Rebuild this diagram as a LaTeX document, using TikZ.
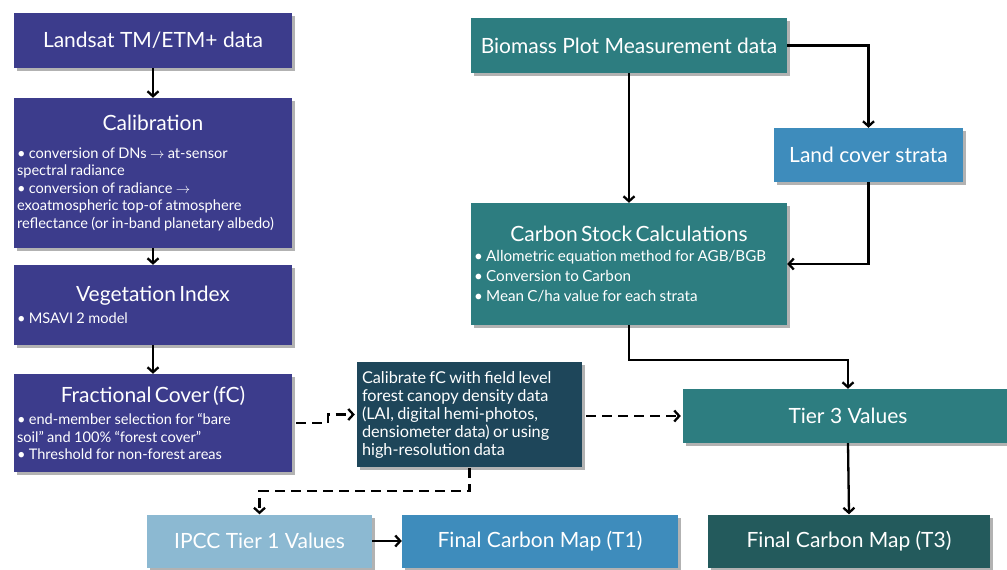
\documentclass[tikz,border=0pt]{standalone}
\usepackage{fontspec}
\setmainfont{Lato}
\usetikzlibrary{arrows.meta,shadows}
\definecolor{cpurple}{HTML}{3C3C8C}
\definecolor{cteal}{HTML}{2D7D80}
\definecolor{csteel}{HTML}{3E8CBC}
\definecolor{clight}{HTML}{8CB9D2}
\definecolor{cdark}{HTML}{1E465A}
\definecolor{cdteal}{HTML}{235A5C}
\newcommand{\titlef}{\fontsize{21}{25}\selectfont}
\newcommand{\bulf}{\fontsize{14.6}{17.5}\selectfont}
\newcommand{\csf}{\fontsize{15.2}{20}\selectfont}
\newcommand{\calf}{\fontsize{16.3}{18}\selectfont}
\begin{document}
\begin{tikzpicture}[x=1pt,y=-1pt,
  pbox/.style={rectangle,text=white,inner sep=0pt,
    drop shadow={shadow xshift=3pt,shadow yshift=-3pt,fill=black,opacity=0.3}},
  arr/.style={line width=2.3pt,-{Straight Barb[length=5pt,width=11pt]}},
  darr/.style={arr,dash pattern=on 10pt off 6pt}]
\useasboundingbox (0,0) rectangle (1007,570);
% left column
\node[pbox,fill=cpurple,minimum width=278pt,minimum height=55pt,font=\titlef] (land) at (153,40.5) {Landsat TM/ETM+ data};
\node[pbox,fill=cpurple,minimum width=278pt,minimum height=150pt,text width=272pt,align=left] (cal) at (153,173)
 {{\centering\titlef Calibration\par}\vspace{10pt}\bulf
 • conversion of DNs $\rightarrow$ at-sensor\par
 spectral radiance\par
 • conversion of radiance $\rightarrow$\par
 exoatmospheric top-of atmosphere\par
 reflectance (or in-band planetary albedo)\par};
\node[pbox,fill=cpurple,minimum width=278pt,minimum height=80pt,text width=272pt,align=left] (veg) at (153,305)
 {{\centering\titlef Vegetation Index\par}\vspace{4pt}\bulf
 • MSAVI 2 model\par};
\node[pbox,fill=cpurple,minimum width=278pt,minimum height=98pt,text width=272pt,align=left] (frac) at (153,423)
 {{\centering\titlef Fractional Cover (fC)\par}\vspace{5pt}\bulf
 • end-member selection for ``bare\par
 soil'' and 100\% ``forest cover''\par
 • Threshold for non-forest areas\par};
% middle
\node[pbox,fill=cdark,minimum width=225pt,minimum height=105pt,text width=215pt,align=left] (calfc) at (469.5,414.5)
 {\calf Calibrate fC with field level\par
 forest canopy density data\par
 (LAI, digital hemi-photos,\par
 densiometer data) or using\par
 high-resolution data\par};
% right column
\node[pbox,fill=cteal,minimum width=316pt,minimum height=55pt,font=\titlef] (bio) at (629,45.5) {Biomass Plot Measurement data};
\node[pbox,fill=csteel,minimum width=189pt,minimum height=54pt,font=\titlef] (lcs) at (868.5,155) {Land cover strata};
\node[pbox,fill=cteal,minimum width=316pt,minimum height=122pt,text width=310pt,align=left] (cs) at (629,264)
 {{\centering\titlef Carbon Stock Calculations\par}\csf
 • Allometric equation method for AGB/BGB\par
 • Conversion to Carbon\par
 • Mean C/ha value for each strata\par};
\node[pbox,fill=cteal,minimum width=330pt,minimum height=54pt,font=\titlef] (t3v) at (848,416) {Tier 3 Values};
% bottom row
\node[pbox,fill=clight,minimum width=225pt,minimum height=53pt,font=\titlef] (ipcc) at (259.5,541) {IPCC Tier 1 Values};
\node[pbox,fill=csteel,minimum width=276pt,minimum height=53pt,font=\titlef] (t1) at (540,541) {Final Carbon Map (T1)};
\node[pbox,fill=cdteal,minimum width=282pt,minimum height=53pt,font=\titlef] (t3) at (849,541) {Final Carbon Map (T3)};
% connectors
\draw[arr] (land) -- (cal);
\draw[arr] (cal) -- (veg);
\draw[arr] (veg) -- (frac);
\draw[darr] ([xshift=4pt]frac.east) -- ++(32,0) |- ([xshift=-2pt]calfc.west);
\draw[darr] ([xshift=4pt]calfc.east |- t3v.west) -- ([xshift=-2pt]t3v.west);
\draw[darr] ([yshift=-1pt]calfc.south) -- ++(0,23) -| (ipcc.north);
\draw[arr] (ipcc) -- (t1);
\draw[arr] (bio) -- (cs);
\draw[arr] (bio.east) -| (lcs.north);
\draw[arr] (lcs.south) |- (cs.east);
\draw[arr] (cs.south) -- ++(0,35) -| (t3v.north);
\draw[arr] (t3v.south) -- (t3.north);
\end{tikzpicture}
\end{document}
